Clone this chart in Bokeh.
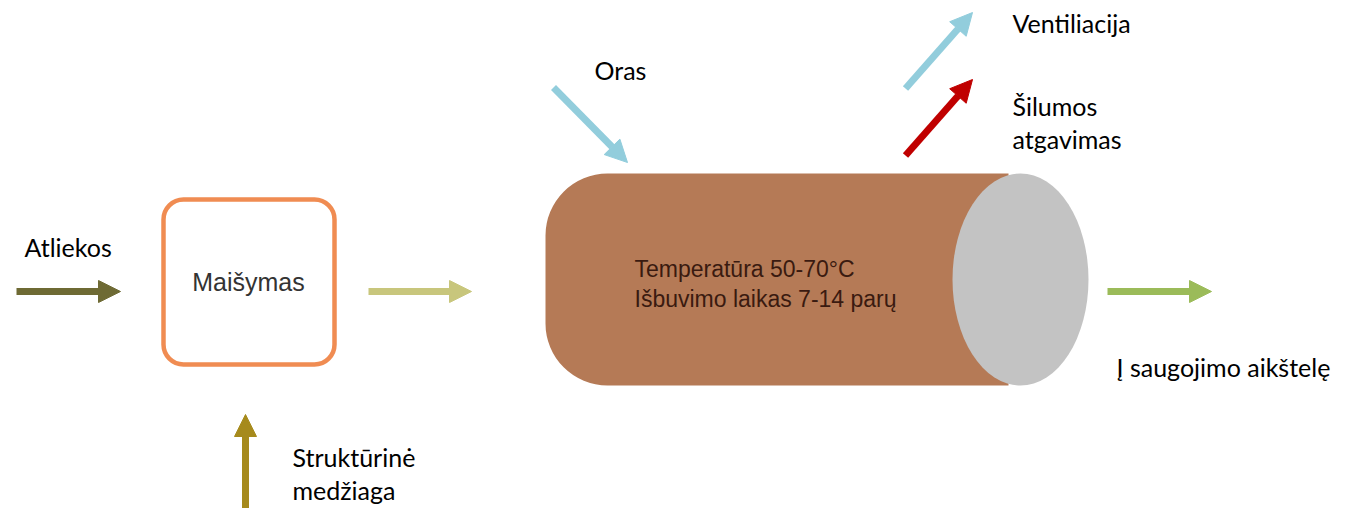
from bokeh.plotting import figure
from bokeh.models import Range1d, Arrow, NormalHead, BoxAnnotation
from bokeh.core.properties import value
from bokeh.embed import file_html
from bokeh.resources import INLINE

# ---- texts ----
side_labels = ["Atliekos", "Oras", "Ventiliacija", "Šilumos", "atgavimas",
               "Į saugojimo aikštelę", "Struktūrinė", "medžiaga"]
box_label = "Maišymas"
tank_lines = ["Temperatūra 50-70°C", "Išbuvimo laikas 7-14 parų"]

# ---- colours ----
c_waste = "#6e6a34"
c_mix = "#c8c67c"
c_air = "#92cddc"
c_heat = "#c00000"
c_out = "#9bbb59"
c_struct = "#a68a1c"
c_box = "#f08c52"
c_tank = "#b57a56"
c_cap = "#c3c3c3"

W, H = 1352, 508
p = figure(width=W, height=H, output_backend="svg", toolbar_location=None,
           x_range=Range1d(0, W), y_range=Range1d(H, 0),
           min_border=0, outline_line_color=None, background_fill_color="white")
p.axis.visible = False
p.grid.visible = False

# mixing box
p.add_layout(BoxAnnotation(left=163, right=334, top=199, bottom=364,
                           fill_color="white", fill_alpha=1,
                           line_color=c_box, line_alpha=1, line_width=4.5,
                           border_radius=20, level="underlay"))

# tank body (rounded left end)
p.add_layout(BoxAnnotation(left=545, right=1008, top=173, bottom=385,
                           fill_color=c_tank, fill_alpha=1, line_color=None,
                           border_radius=(62, 0, 0, 62), level="underlay"))
# tank end cap
p.ellipse(x=[1020], y=[279], width=[136], height=[212], fill_color=c_cap, line_color=None)

# arrows
def arrow(x0, y0, x1, y1, color, lw=7, size=22):
    p.add_layout(Arrow(x_start=x0, y_start=y0, x_end=x1, y_end=y1,
                       line_color=color, line_width=lw,
                       end=NormalHead(size=size, fill_color=color, line_color=color, line_width=1)))

arrow(16, 291, 120, 291, c_waste)
arrow(368, 291, 471, 291, c_mix)
arrow(1107, 291, 1211, 291, c_out)
arrow(245, 530, 245, 414, c_struct)
arrow(553, 87, 627, 162, c_air)
arrow(905, 88, 972, 12, c_air)
arrow(905, 155, 972, 79, c_heat)

# side labels (Calibri-like)
lx = [24, 594, 1012, 1012, 1012, 1116, 292, 292]
ly = [246, 69, 22, 105, 138, 366, 456, 489]
p.text(x=lx, y=ly, text=side_labels, text_font=value("Lato"), text_font_size="25px",
       text_color="black", text_baseline="middle", text_align="left")

# box label
p.text(x=[248], y=[281], text=[box_label], text_font=value("Liberation Sans"),
       text_font_size="25px", text_color="#333333", text_baseline="middle", text_align="center")

# tank label
p.text(x=[634, 634], y=[268, 298], text=tank_lines, text_font=value("Liberation Sans"),
       text_font_size="23px", text_color="#3a1a10", text_baseline="middle", text_align="left")

open("out.html", "w").write(file_html(p, INLINE))
